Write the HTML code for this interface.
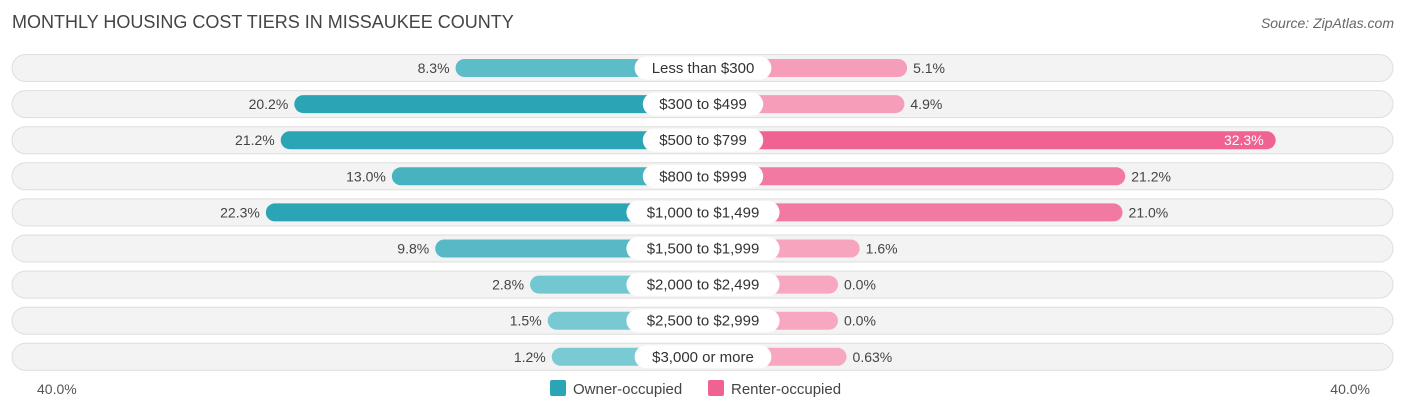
<!DOCTYPE html>
<html><head><meta charset="utf-8">
<style>
body{margin:0;width:1406px;height:414px;background:#fff;font-family:"Liberation Sans",sans-serif;overflow:hidden}
svg{display:block}
</style></head>
<body>
<svg id="chart" width="1406" height="414">
<text x="12" y="28" font-size="18" fill="#444">MONTHLY HOUSING COST TIERS IN MISSAUKEE COUNTY</text>
<text x="1394" y="28" font-size="14" fill="#666" font-style="italic" text-anchor="end">Source: ZipAtlas.com</text>
<text x="37" y="394" font-size="14" fill="#555">40.0%</text>
<text x="1370" y="394" font-size="14" fill="#555" text-anchor="end">40.0%</text>
<rect x="550" y="380" width="16" height="16" rx="2" fill="#2ba5b5"/>
<text x="573" y="394" font-size="15" fill="#444">Owner-occupied</text>
<rect x="708" y="380" width="16" height="16" rx="2" fill="#f06292"/>
<text x="731" y="394" font-size="15" fill="#444">Renter-occupied</text>
</svg>
<script>
const categories=["Less than $300","$300 to $499","$500 to $799","$800 to $999","$1,000 to $1,499","$1,500 to $1,999","$2,000 to $2,499","$2,500 to $2,999","$3,000 or more"];
const owner=[8.3,20.2,21.2,13.0,22.3,9.8,2.8,1.5,1.2];
const renter=[5.1,4.9,32.3,21.2,21.0,1.6,0.0,0.0,0.63];
const ownerLabels=["8.3%","20.2%","21.2%","13.0%","22.3%","9.8%","2.8%","1.5%","1.2%"];
const renterLabels=["5.1%","4.9%","32.3%","21.2%","21.0%","1.6%","0.0%","0.0%","0.63%"];
const NS="http://www.w3.org/2000/svg";
const svg=document.getElementById('chart');
const cx=703,off=135,k=13.55;
const ox=v=>cx-off-k*v, rx=v=>cx+off+k*v;
const rowY=i=>68+i*36.1;
function mk(tag,attrs){const e=document.createElementNS(NS,tag);for(const a in attrs)e.setAttribute(a,attrs[a]);svg.appendChild(e);return e;}
function mix(a,b,t){return 'rgb('+a.map((c,i)=>Math.round(c+(b[i]-c)*t)).join(',')+')';}
categories.forEach((c,i)=>{
  const y=rowY(i);
  const bg=mk('rect',{x:12,y:y-13.5,width:1381,height:27,rx:13.5,fill:'#f3f3f3',stroke:'#dedede','stroke-width':1});
  
  
  const to=Math.min(1,owner[i]/20);
  const ob=mk('rect',{x:ox(owner[i]),y:y-9,width:cx-ox(owner[i]),height:18,rx:9,fill:mix([127,204,213],[43,165,181],to)});
  
  
  const tr=Math.min(1,renter[i]/32);
  const rb=mk('rect',{x:cx,y:y-9,width:rx(renter[i])-cx,height:18,rx:9,fill:mix([247,168,192],[240,98,146],tr)});
  
  
  const w=c.length*8.2+22;
  const pill=mk('rect',{x:cx-w/2,y:y-11.5,width:w,height:23,rx:11.5,fill:'#fff'});
  
  
  const lt=mk('text',{x:cx,y:y+5,'font-size':15,fill:'#333','text-anchor':'middle'});
  lt.textContent=c;
  
  
  const ot=mk('text',{x:ox(owner[i])-6,y:y+5,'font-size':14,fill:'#444','text-anchor':'end'});
  ot.textContent=ownerLabels[i];
  
  
  const inside=renter[i]>30;
  const rt=mk('text',{x:inside?rx(renter[i])-12:rx(renter[i])+6,y:y+5,'font-size':14,fill:inside?'#fff':'#444','text-anchor':inside?'end':'start'});
  rt.textContent=renterLabels[i];
  
  
});
</script>
</body></html>
